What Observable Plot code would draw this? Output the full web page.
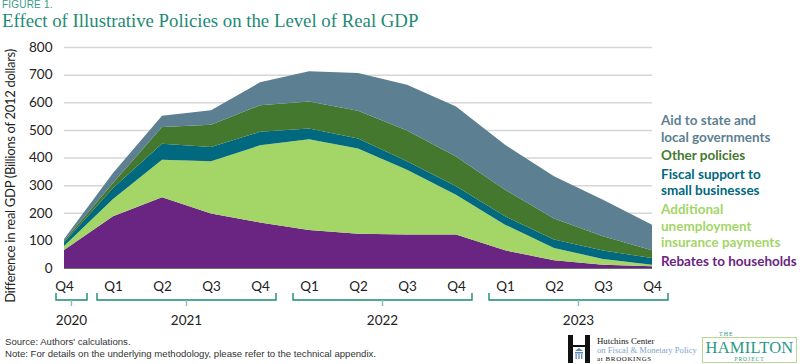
<!DOCTYPE html>
<html><head><meta charset="utf-8">
<script src="https://cdn.jsdelivr.net/npm/d3@7"></script>
<script src="https://cdn.jsdelivr.net/npm/@observablehq/plot@0.6"></script>
<style>
body{margin:0;background:#fff;width:800px;height:364px;overflow:hidden;position:relative;font-family:Lato,sans-serif;color:#222}
#chart{position:absolute;left:0;top:36px}
#fig{position:absolute;left:2px;top:-1px;font-family:"Liberation Sans",Arial,sans-serif;font-size:10px;color:#3a9a88;letter-spacing:0.2px}
#title{position:absolute;left:2px;top:10px;font-family:"Liberation Serif","Times New Roman",serif;font-size:18.8px;color:#1d8a76;white-space:nowrap}
#ylabel{position:absolute;left:10px;top:176px;transform:translate(-50%,-50%) rotate(-90deg);white-space:nowrap;font-size:13px;letter-spacing:-0.3px;color:#222}
#legend{position:absolute;left:661px;top:112px;display:flex;flex-direction:column;gap:1.8px;font-weight:700;font-size:13.5px;line-height:16.7px}
.foot{position:absolute;left:5px;font-family:"Liberation Sans",Arial,sans-serif;font-size:9.6px;color:#333;white-space:nowrap}
#hutch{position:absolute;left:566px;top:334px;width:134px;height:30px}
#hutch .t{position:absolute;left:31px;font-family:"Liberation Serif",serif;white-space:nowrap}
#ham{position:absolute;left:702px;top:337px;width:95px;height:26px;border:1.3px solid #b8d890;box-sizing:border-box;font-family:"Liberation Serif",serif;color:#2a9886}
</style></head><body>
<div id="fig">FIGURE 1.</div>
<div id="title">Effect of Illustrative Policies on the Level of Real GDP</div>
<div id="chart"></div>
<div id="ylabel">Difference in real GDP (Billions of 2012 dollars)</div>
<div id="legend"></div>
<div class="foot" style="top:336px">Source: Authors' calculations.</div>
<div class="foot" style="top:348px">Note: For details on the underlying methodology, please refer to the technical appendix.</div>
<div id="hutch">
  <svg width="26" height="30" style="position:absolute;left:0;top:0">
    <rect x="2" y="1" width="5" height="28" fill="#111"/>
    <rect x="19" y="1" width="5" height="28" fill="#111"/>
    <rect x="7" y="11" width="12" height="2" fill="#111"/>
    <path d="M9 17 L13 14 L17 17 Z" fill="#5b86b8"/>
    <rect x="9" y="18" width="8" height="1.5" fill="#5b86b8"/>
    <rect x="9.5" y="20" width="1.3" height="5" fill="#5b86b8"/>
    <rect x="12.3" y="20" width="1.3" height="5" fill="#5b86b8"/>
    <rect x="15.1" y="20" width="1.3" height="5" fill="#5b86b8"/>
  </svg>
  <div class="t" style="top:2px;font-size:8.8px;color:#111">Hutchins Center</div>
  <div class="t" style="top:11px;font-size:8.6px;color:#7ea6cc">on Fiscal &amp; Monetary Policy</div>
  <div class="t" style="top:20.5px;font-size:7px;color:#111;letter-spacing:0.6px">at BROOKINGS</div>
</div>
<div id="ham">
  <div style="position:absolute;left:14px;top:-7px;font-size:6px;line-height:7px;letter-spacing:1px"><span style="background:#fff;padding:0 2px">THE</span></div>
  <div style="position:absolute;left:0;right:0;top:2px;font-size:16.5px;letter-spacing:0.2px;line-height:15px;text-align:center">HAMILTON</div>
  <div style="position:absolute;left:0;right:0;top:18px;font-size:5.5px;line-height:6px;letter-spacing:1px;text-align:center"><span style="background:#fff;padding:0 2px">PROJECT</span></div>
</div>
<script>
const quarters = ["Q4","Q1","Q2","Q3","Q4","Q1","Q2","Q3","Q4","Q1","Q2","Q3","Q4"];
const years    = ["2020","2021","2021","2021","2021","2022","2022","2022","2022","2023","2023","2023","2023"];
const rebates  = [65,187,256,197,165,138,124,121,121,64,28,12,6];
const unemployment = [15,63,136,189,279,328,309,235,144,93,44,21,6];
const smallBiz = [12,40,58,52,49,39,36,30,31,30,31,30,24];
const otherPol = [7,18,60,81,96,98,100,112,108,96,76,52,28];
const stateAid = [6,36,41,52,83,109,137,165,181,163,153,132,93];
const seriesNames = ["Rebates to households","Additional unemployment insurance payments","Fiscal support to small businesses","Other policies","Aid to state and local governments"];
const seriesValues = [rebates, unemployment, smallBiz, otherPol, stateAid];
const seriesColors = ["#6a2481","#a3d567","#00687f","#45782f","#5c7f92"];
const legendLines = [["Aid to state and","local governments"],["Other policies"],["Fiscal support to","small businesses"],["Additional","unemployment","insurance payments"],["Rebates to households"]];
const legendColors = ["#5c7f92","#45782f","#00687f","#a3d567","#6a2481"];
const yTicks = [0,100,200,300,400,500,600,700,800];

const data = [];
seriesNames.forEach((s, k) => seriesValues[k].forEach((v, i) => data.push({series: s, i, value: v})));
const qData = quarters.map((q, i) => ({i, q}));

const plot = Plot.plot({
  width: 800, height: 300,
  marginLeft: 64, marginRight: 148, marginTop: 11, marginBottom: 68,
  style: {fontFamily: "Lato, sans-serif", fontSize: "13.5px", color: "#222", background: "transparent"},
  x: {domain: [0, 12], axis: null},
  y: {domain: [0, 800], ticks: yTicks, tickSize: 0, tickPadding: 12, label: null, tickFormat: d => String(d)},
  color: {domain: seriesNames, range: seriesColors},
  marks: [
    Plot.ruleY(yTicks.filter(d => d > 0), {stroke: "#d6d6d6", strokeWidth: 1.5}),
    Plot.areaY(data, {x: "i", y: "value", z: "series", fill: "series", order: seriesNames}),
    Plot.ruleY([0], {stroke: "#6e6e6e", strokeWidth: 1}),
    Plot.text(qData, {x: "i", y: 0, text: "q", dy: 18, fontSize: 13.5, fill: "#222"})
  ]
});
document.getElementById("chart").appendChild(plot);

// year brackets
const sx = plot.scale("x"), sy = plot.scale("y");
const y0 = sy.apply(0);
const groups = d3.groups(quarters.map((q, i) => ({i, y: years[i]})), d => d.y)
  .map(([y, arr]) => ({year: y, first: arr[0].i, last: arr[arr.length - 1].i}));
const svg = d3.select(plot);
const g = svg.append("g").attr("fill", "none").attr("stroke", "#1d8a76").attr("stroke-width", 1.4);
groups.forEach(gr => {
  let a = sx.apply(gr.first) - 16, b = sx.apply(gr.last) + 16;
  if (gr.first === 0) { a = sx.apply(gr.first) - 8; b = sx.apply(gr.last) + 23; }
  const ly = y0 + 32;
  g.append("path").attr("d", `M${a},${ly - 7}V${ly}H${b}V${ly - 7}`);
  g.append("path").attr("d", `M${(a + b) / 2},${ly}V${ly + 6}`).attr("stroke", "#7fbfb2");
  svg.append("text").attr("x", (a + b) / 2).attr("y", ly + 22).attr("text-anchor", "middle")
    .attr("dominant-baseline", "middle").attr("font-size", 13.5).attr("fill", "#222").text(gr.year);
});

// legend
const lg = document.getElementById("legend");
legendLines.forEach((lines, k) => {
  const d = document.createElement("div");
  d.style.color = legendColors[k];
  d.innerHTML = lines.join("<br>");
  lg.appendChild(d);
});
</script>
</body></html>
